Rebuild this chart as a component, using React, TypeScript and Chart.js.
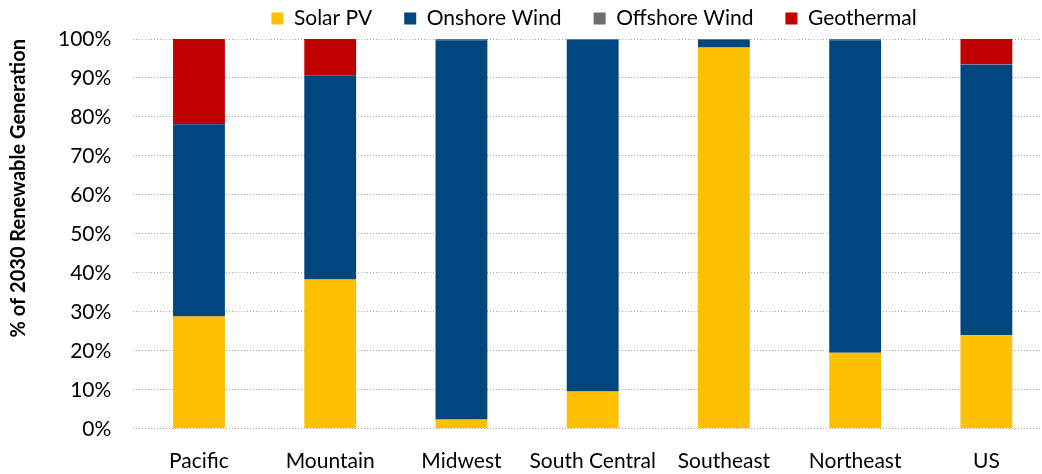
import React, { useEffect, useRef } from "react";
import { Chart, registerables } from "chart.js";

Chart.register(...registerables);

const categories = ["Pacific", "Mountain", "Midwest", "South Central", "Southeast", "Northeast", "US"];
const solarPV = [28.8, 38.3, 2.4, 9.6, 97.8, 19.5, 24.0];
const onshoreWind = [49.3, 52.4, 97.3, 90.2, 2.0, 80.2, 69.4];
const offshoreWind = [0, 0, 0.3, 0.2, 0.2, 0.3, 0.1];
const geothermal = [21.9, 9.3, 0, 0, 0, 0, 6.5];
const yTicks = [0, 10, 20, 30, 40, 50, 60, 70, 80, 90, 100];

const FONT = "Lato, 'Open Sans', sans-serif";
const LEGEND_CENTER_X = 594;

const legendShift = {
  id: "legendShift",
  afterLayout(chart: any) {
    const lg = chart.legend;
    if (!lg) return;
    const dx = LEGEND_CENTER_X - (lg.left + lg.right) / 2;
    lg.left += dx;
    lg.right += dx;
  },
};

export default function App() {
  const ref = useRef<HTMLCanvasElement | null>(null);
  useEffect(() => {
    if (!ref.current) return;
    const mk = (label: string, data: number[], color: string) => ({
      label,
      data,
      backgroundColor: color,
      borderWidth: 0,
      barPercentage: 0.395,
      categoryPercentage: 1,
    });
    const chart = new Chart(ref.current, {
      type: "bar",
      data: {
        labels: categories,
        datasets: [
          mk("Solar PV", solarPV, "#FFC000"),
          mk("Onshore Wind", onshoreWind, "#00467F"),
          mk("Offshore Wind", offshoreWind, "#6D6E71"),
          mk("Geothermal", geothermal, "#C00000"),
        ],
      },
      plugins: [legendShift],
      options: {
        animation: false,
        responsive: false,
        maintainAspectRatio: false,
        layout: { padding: { left: 7, right: 8, top: -24, bottom: 0 } },
        plugins: {
          legend: {
            position: "top",
            labels: {
              boxWidth: 12,
              boxHeight: 12,
              padding: 32,
              color: "#000",
              font: { family: FONT, size: 21 },
            },
          },
          tooltip: { enabled: false },
        },
        scales: {
          x: {
            stacked: true,
            grid: { display: false },
            border: { display: false },
            ticks: {
              color: "#000",
              font: { family: FONT, size: 21 },
              padding: 12,
              maxRotation: 0,
              autoSkip: false,
            },
          },
          y: {
            stacked: true,
            min: 0,
            max: 100,
            afterBuildTicks: (axis: any) => {
              axis.ticks = yTicks.map((v) => ({ value: v }));
            },
            grid: {
              color: "#A6A6A6",
              lineWidth: 1,
              drawTicks: false,
            },
            border: { display: false, dash: [1, 2] },
            ticks: {
              color: "#000",
              font: { family: FONT, size: 21 },
              padding: 22,
              callback: (v: any) => v + "%",
            },
            title: {
              display: true,
              align: "end",
              text: "% of 2030 Renewable Generation",
              color: "#000",
              font: { family: FONT, size: 20, weight: "bold" },
              padding: { top: 0, bottom: 5 },
            },
          },
        },
      },
    });
    return () => chart.destroy();
  }, []);
  return (
    <div style={{ position: "fixed", left: 0, top: 0, width: 1042, height: 474, overflow: "hidden", background: "#fff" }}>
      <canvas ref={ref} width={1060} height={486} style={{ display: "block" }} />
    </div>
  );
}
